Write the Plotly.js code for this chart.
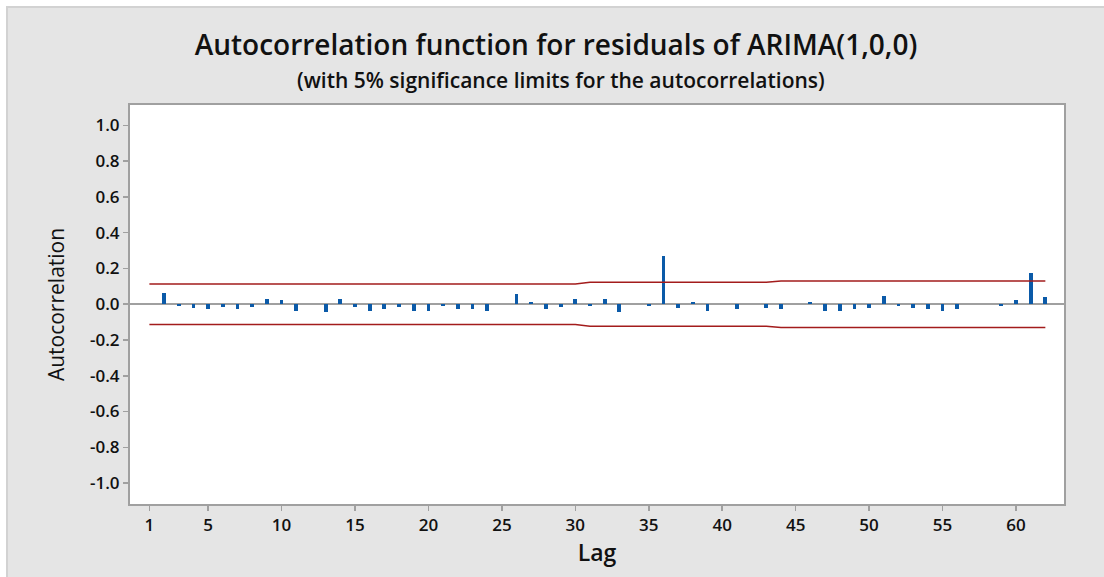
<!DOCTYPE html>
<html>
<head>
<meta charset="utf-8">
<script src="https://cdn.plot.ly/plotly-3.0.1.min.js"></script>
<style>
  html, body { margin: 0; padding: 0; background: #ffffff; }
  #wrap { position: absolute; left: 6px; top: 6px; width: 1098px; height: 571px;
          background: #e5e5e5; border-left: 2px solid #d2d2d2; border-top: 2px solid #d2d2d2; box-sizing: border-box; }
  #chart { width: 1096px; height: 569px; }
</style>
</head>
<body>
<div id="wrap"><div id="chart"></div></div>
<script>
// Lags 1..62
const lags = [];
for (let i = 1; i <= 62; i++) lags.push(i);

// Autocorrelation of residuals
const acf = [
  0.00, 0.065, -0.01, -0.02, -0.026, -0.017, -0.026, -0.017, 0.031, 0.022,
  -0.036, 0.00, -0.045, 0.031, -0.017, -0.036, -0.026, -0.017, -0.036, -0.036,
  -0.01, -0.026, -0.026, -0.036, 0.00, 0.058, 0.01, -0.026, -0.017, 0.031,
  -0.01, 0.032, -0.045, 0.00, -0.01, 0.268, -0.02, 0.01, -0.037, 0.00,
  -0.028, 0.00, -0.02, -0.028, 0.00, 0.01, -0.036, -0.036, -0.026, -0.019,
  0.048, -0.01, -0.019, -0.026, -0.036, -0.026, 0.00, 0.00, -0.01, 0.024,
  0.175, 0.041
];

// 5% significance limits (upper)
const limit = lags.map(l => (l <= 30 ? 0.113 : (l <= 43 ? 0.123 : 0.130)));
const upper = limit;
const lower = limit.map(v => -v);

const xTicks = [1, 5, 10, 15, 20, 25, 30, 35, 40, 45, 50, 55, 60];
const yTicks = [-1.0, -0.8, -0.6, -0.4, -0.2, 0.0, 0.2, 0.4, 0.6, 0.8, 1.0];
const yTickText = ["-1.0", "-0.8", "-0.6", "-0.4", "-0.2", "0.0", "0.2", "0.4", "0.6", "0.8", "1.0"];

const titleText = "Autocorrelation function for residuals of ARIMA(1,0,0)";
const subtitleText = "(with 5% significance limits for the autocorrelations)";

const limitColor = "#a31c1c";
const barColor = "#0b5aa8";

const traces = [
  { type: "scatter", mode: "lines", x: lags, y: upper, line: { color: limitColor, width: 1.5 }, hoverinfo: "skip", showlegend: false },
  { type: "scatter", mode: "lines", x: lags, y: lower, line: { color: limitColor, width: 1.5 }, hoverinfo: "skip", showlegend: false },
  { type: "bar", x: lags, y: acf, width: 0.26, marker: { color: barColor, line: { width: 0 } }, showlegend: false }
];

const tickFont = { family: "Open Sans, sans-serif", size: 17, color: "#111111", weight: 600 };

const layout = {
  width: 1096, height: 569,
  paper_bgcolor: "#e5e5e5",
  plot_bgcolor: "#ffffff",
  margin: { l: 122, r: 40, t: 97, b: 73 },
  showlegend: false,
  title: {
    text: titleText,
    font: { family: "Open Sans, sans-serif", size: 28, color: "#111111", weight: 600 },
    xref: "container", x: 0.5, xanchor: "center",
    yref: "container", y: 1 - 37 / 569, yanchor: "middle"
  },
  annotations: [{
    text: subtitleText, showarrow: false,
    xref: "paper", yref: "paper", x: 0.4615, xanchor: "center",
    y: 1.0615, yanchor: "middle",
    font: { family: "Open Sans, sans-serif", size: 21, color: "#111111", weight: 600 }
  }],
  xaxis: {
    range: [-0.32, 63.27],
    tickmode: "array", tickvals: xTicks,
    ticks: "outside", ticklen: 5, tickwidth: 1.5, tickcolor: "#a0a0a0",
    tickfont: tickFont,
    showgrid: false, zeroline: false,
    showline: true, linecolor: "#a0a0a0", linewidth: 2, mirror: true,
    title: { text: "Lag", font: { family: "Open Sans, sans-serif", size: 23, color: "#111111", weight: 600 }, standoff: 6 }
  },
  yaxis: {
    range: [-1.117, 1.114],
    tickmode: "array", tickvals: yTicks, ticktext: yTickText,
    ticks: "outside", ticklen: 5, tickwidth: 1.5, tickcolor: "#a0a0a0",
    tickfont: tickFont,
    showgrid: false,
    zeroline: true, zerolinecolor: "#a0a0a0", zerolinewidth: 1.5,
    showline: true, linecolor: "#a0a0a0", linewidth: 2, mirror: true,
    title: { text: "Autocorrelation", font: { family: "Open Sans, sans-serif", size: 21, color: "#111111" }, standoff: 20 }
  },
  bargap: 0
};

Plotly.newPlot("chart", traces, layout, { displayModeBar: false, staticPlot: true });
</script>
</body>
</html>
